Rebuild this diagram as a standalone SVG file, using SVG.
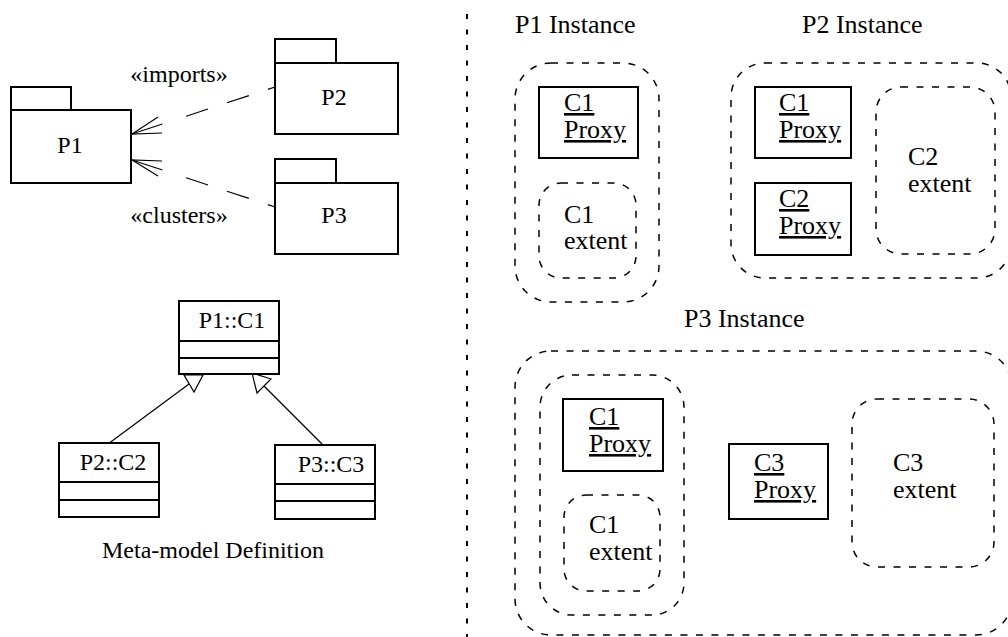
<svg xmlns="http://www.w3.org/2000/svg" width="1008" height="637" viewBox="0 0 1008 637">
<style>
.box{fill:#fff;stroke:#000;stroke-width:2}
.dr{fill:none;stroke:#000;stroke-width:1.5;stroke-dasharray:7 8.5}
.ln{fill:none;stroke:#000;stroke-width:1.2}
.dash{stroke-dasharray:32 25 23 20 23 20 30}
</style>
<rect width="1008" height="637" fill="#fff"/>
<g id="connectors">
<path class="ln dash" d="M132,134 L275,87"/>
<path class="ln" d="M158,117 L132,134 L162,133"/>
<path class="ln dash" d="M132,160 L275,207"/>
<path class="ln" d="M162,161 L132,160 L158,176"/>
<path class="ln" d="M108,444 L189,384"/>
<path class="ln" d="M203,375 L184,375 L194,392 Z" fill="#fff"/>
<path class="ln" d="M322,444 L264,386"/>
<path class="ln" d="M252,373 L271,379 L257,393 Z" fill="#fff"/>
</g>
<g id="P1">
<rect class="box" x="11" y="87" width="60" height="23"/>
<rect class="box" x="11" y="110" width="120" height="73"/>
<text font-family="Times New Roman" font-size="24" text-anchor="middle" x="70" y="153">P1</text>
</g>
<g id="P2">
<rect class="box" x="275" y="39" width="61" height="24"/>
<rect class="box" x="275" y="63" width="123" height="71"/>
<text font-family="Times New Roman" font-size="24" text-anchor="middle" x="334" y="105">P2</text>
</g>
<g id="P3">
<rect class="box" x="275" y="159" width="61" height="24"/>
<rect class="box" x="275" y="183" width="123" height="71"/>
<text font-family="Times New Roman" font-size="24" text-anchor="middle" x="334" y="223">P3</text>
</g>
<text font-family="Times New Roman" font-size="24" text-anchor="middle" x="179" y="82">«imports»</text>
<text font-family="Times New Roman" font-size="24" text-anchor="middle" x="179" y="223">«clusters»</text>
<g id="P1C1">
<rect class="box" x="179" y="301" width="100" height="73"/>
<line class="box" x1="179" y1="341" x2="279" y2="341"/>
<line class="box" x1="179" y1="358" x2="279" y2="358"/>
<text font-family="Times New Roman" font-size="24" text-anchor="middle" x="232" y="328">P1::C1</text>
</g>
<g id="P2C2">
<rect class="box" x="59" y="443" width="100" height="74"/>
<line class="box" x1="59" y1="482" x2="159" y2="482"/>
<line class="box" x1="59" y1="500" x2="159" y2="500"/>
<text font-family="Times New Roman" font-size="24" text-anchor="middle" x="113" y="470">P2::C2</text>
</g>
<g id="P3C3">
<rect class="box" x="275" y="445" width="100" height="74"/>
<line class="box" x1="275" y1="484" x2="375" y2="484"/>
<line class="box" x1="275" y1="501" x2="375" y2="501"/>
<text font-family="Times New Roman" font-size="24" text-anchor="middle" x="331" y="472">P3::C3</text>
</g>
<text font-family="Times New Roman" font-size="24" text-anchor="middle" x="213" y="558">Meta-model Definition</text>
<line x1="467" y1="14" x2="467" y2="637" stroke="#000" stroke-width="2" stroke-dasharray="5 10.5"/>
<g id="P1Instance">
<text font-family="Times New Roman" font-size="26" x="515" y="33">P1 Instance</text>
<rect class="dr" x="515" y="63" width="144" height="239" rx="36" ry="36"/>
<g id="P1-C1Proxy">
<rect class="box" x="539" y="87" width="99" height="71"/>
<text font-family="Times New Roman" font-size="26" text-decoration="underline" x="564" y="111">C1</text>
<text font-family="Times New Roman" font-size="26" text-decoration="underline" x="564" y="138">Proxy</text>
</g>
<g id="P1-C1extent">
<rect class="dr" x="539" y="183" width="97" height="95" rx="22" ry="22"/>
<text font-family="Times New Roman" font-size="26" x="564" y="223">C1</text>
<text font-family="Times New Roman" font-size="26" x="564" y="249">extent</text>
</g>
</g>
<g id="P2Instance">
<text font-family="Times New Roman" font-size="26" x="802" y="33">P2 Instance</text>
<rect class="dr" x="731" y="63" width="280" height="215" rx="34" ry="34"/>
<g id="P2-C1Proxy">
<rect class="box" x="755" y="87" width="96" height="71"/>
<text font-family="Times New Roman" font-size="26" text-decoration="underline" x="779" y="111">C1</text>
<text font-family="Times New Roman" font-size="26" text-decoration="underline" x="779" y="138">Proxy</text>
</g>
<g id="P2-C2Proxy">
<rect class="box" x="755" y="183" width="96" height="72"/>
<text font-family="Times New Roman" font-size="26" text-decoration="underline" x="779" y="207">C2</text>
<text font-family="Times New Roman" font-size="26" text-decoration="underline" x="779" y="234">Proxy</text>
</g>
<g id="P2-C2extent">
<rect class="dr" x="876" y="87" width="119" height="167" rx="25" ry="25"/>
<text font-family="Times New Roman" font-size="26" x="908" y="165">C2</text>
<text font-family="Times New Roman" font-size="26" x="908" y="192">extent</text>
</g>
</g>
<g id="P3Instance">
<text font-family="Times New Roman" font-size="26" x="684" y="327">P3 Instance</text>
<rect class="dr" x="515" y="351" width="497" height="284" rx="36" ry="36"/>
<rect class="dr" x="540" y="375" width="144" height="240" rx="32" ry="32"/>
<g id="P3-C1Proxy">
<rect class="box" x="563" y="399" width="100" height="72"/>
<text font-family="Times New Roman" font-size="26" text-decoration="underline" x="589" y="425">C1</text>
<text font-family="Times New Roman" font-size="26" text-decoration="underline" x="589" y="452">Proxy</text>
</g>
<g id="P3-C1extent">
<rect class="dr" x="564" y="495" width="96" height="96" rx="22" ry="22"/>
<text font-family="Times New Roman" font-size="26" x="589" y="533">C1</text>
<text font-family="Times New Roman" font-size="26" x="589" y="560">extent</text>
</g>
<g id="P3-C3Proxy">
<rect class="box" x="729" y="444" width="99" height="75"/>
<text font-family="Times New Roman" font-size="26" text-decoration="underline" x="754" y="471">C3</text>
<text font-family="Times New Roman" font-size="26" text-decoration="underline" x="754" y="498">Proxy</text>
</g>
<g id="P3-C3extent">
<rect class="dr" x="852" y="399" width="142" height="168" rx="25" ry="25"/>
<text font-family="Times New Roman" font-size="26" x="893" y="471">C3</text>
<text font-family="Times New Roman" font-size="26" x="893" y="498">extent</text>
</g>
</g>
</svg>
